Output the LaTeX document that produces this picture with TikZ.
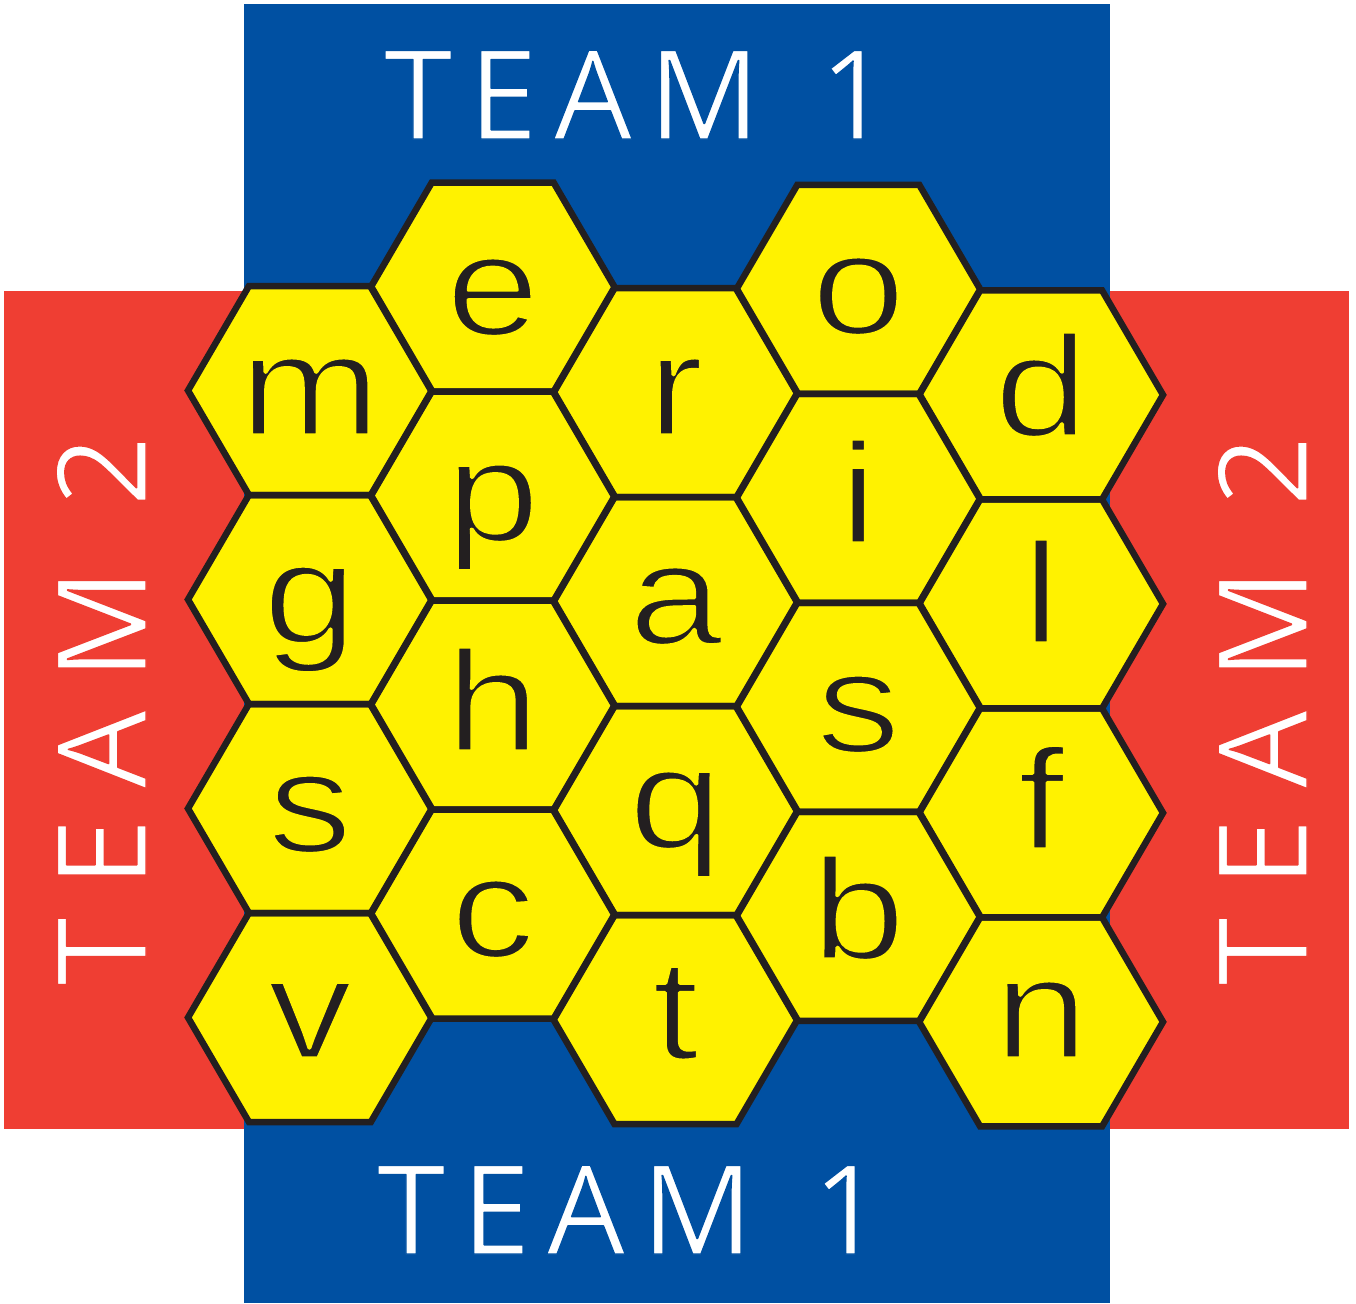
\documentclass[tikz,border=0pt]{standalone}
\usepackage{fontspec}
\usepackage{graphicx}
\setmainfont{Liberation Sans}
\newfontfamily\teamA[LetterSpace=13]{Open Sans}
\newfontfamily\teamB[LetterSpace=24]{Open Sans}
\definecolor{teamblue}{HTML}{0050A2}
\definecolor{teamred}{HTML}{EF3E33}
\definecolor{hexyellow}{HTML}{FFF200}
\definecolor{hexline}{HTML}{231F20}
% thin glyph strokes by outlining them in the background colour
\newcommand\shave[3]{\special{pdf:literal direct 2 Tr #1 RG #2 w 1 j}#3\special{pdf:literal direct 0 Tr}}
\newcommand\hexshape[1]{(#1) +(-121.9,0) -- +(-60.95,-104.5) -- +(60.95,-104.5) -- +(121.9,0) -- +(60.95,104.5) -- +(-60.95,104.5) -- cycle}
\begin{document}
\begin{tikzpicture}[x=0.02cm,y=-0.02cm,
  hexfill/.style={fill=hexyellow},
  hexedge/.style={draw=hexline,line width=3.7pt,line join=miter},
  letter/.style={inner sep=0pt,anchor=base,text=hexline,font=\fontsize{81.6}{82}\selectfont},
  teamtxt/.style={inner sep=0pt,text=white,anchor=base west}]
\useasboundingbox (0,0) rectangle (1356,1303);
\fill[teamred] (4,291) rectangle (1349,1128.7);
\fill[teamblue] (244,4) rectangle (1110,1303);
% hex centres
\coordinate (m) at (309.9,390.5);  \coordinate (g) at (309.9,599.5);
\coordinate (s1) at (309.9,808.5); \coordinate (v) at (309.9,1017.5);
\coordinate (e) at (492.7,287.1);  \coordinate (p) at (492.7,496.1);
\coordinate (h) at (492.7,705.1);  \coordinate (c) at (492.7,914.1);
\coordinate (r) at (675.5,392.7);  \coordinate (a) at (675.5,601.7);
\coordinate (q) at (675.5,810.7);  \coordinate (t) at (675.5,1019.7);
\coordinate (o) at (858.3,289.3);  \coordinate (i) at (858.3,498.3);
\coordinate (s2) at (858.3,707.3); \coordinate (b) at (858.3,916.3);
\coordinate (d) at (1041.1,394.9); \coordinate (l) at (1041.1,603.9);
\coordinate (f) at (1041.1,812.9); \coordinate (n) at (1041.1,1021.9);
\foreach \k in {m,g,s1,v,e,p,h,c,r,a,q,t,o,i,s2,b,d,l,f,n}
  \fill[hexfill] \hexshape{\k};
\foreach \k in {m,g,s1,v,e,p,h,c,r,a,q,t,o,i,s2,b,d,l,f,n}
  \draw[hexedge] \hexshape{\k};
% letters
\foreach \k/\y/\txt in {m/435/m,g/643/g,s1/852/s,v/1058/v,
    e/335/e,p/541/p,h/751/h,c/957/c,
    r/435/r,a/644/a,q/848/q,t/1059/t,
    o/334/o,i/543/i,s2/752/s,b/959/b,
    d/436/d,l/643/l,f/849/f,n/1058/n}
  \node[letter] (L\k) at (\k |- 0,\y) {\scalebox{1.18}[1]{\shave{1 0.949 0}{1.8}{\txt}}};
% team labels
\node[teamtxt,font=\teamA\fontsize{70.6}{72}\selectfont] (t1top) at (383.5,139) {\shave{0 0.3137 0.6353}{0.8}{TEAM \kern6pt1}};
\node[teamtxt,font=\teamA\fontsize{70.6}{72}\selectfont] (t1bot) at (376.5,1254) {\shave{0 0.3137 0.6353}{0.8}{TEAM \kern6pt1}};
\node[teamtxt,rotate=90,font=\teamB\fontsize{70.6}{72}\selectfont] (t2left) at (146,986) {\shave{0.9373 0.2431 0.2}{0.8}{TEAM 2}};
\node[teamtxt,rotate=90,font=\teamB\fontsize{70.6}{72}\selectfont] (t2right) at (1307,986) {\shave{0.9373 0.2431 0.2}{0.8}{TEAM 2}};
\end{tikzpicture}
\end{document}
